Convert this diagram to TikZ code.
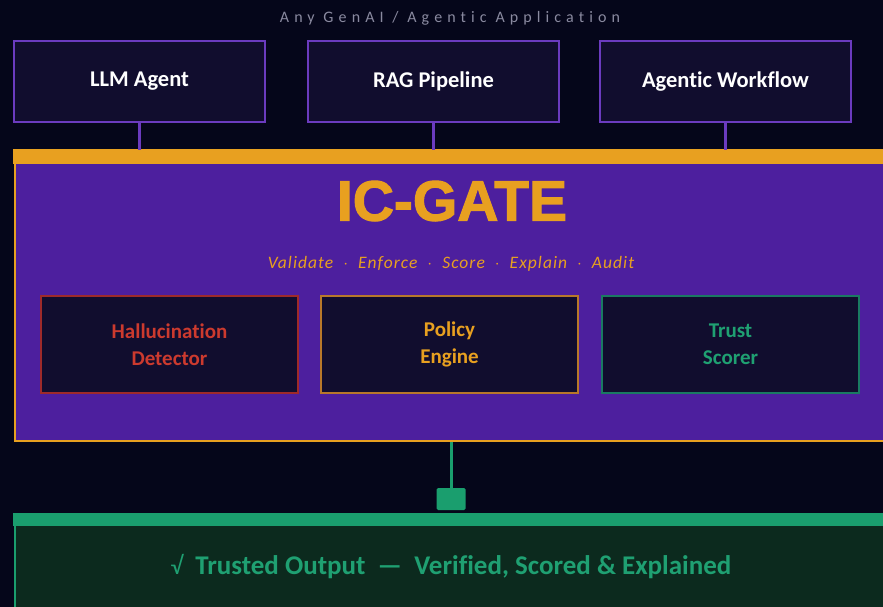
\documentclass[tikz,border=0pt]{standalone}
\usepackage{fontspec}
\setmainfont[Ligatures={NoCommon}]{Carlito}
\newfontfamily\titlefont[FakeBold=2]{Liberation Sans}
\definecolor{bgc}{HTML}{05061A}
\definecolor{boxfill}{HTML}{110D2E}
\definecolor{purpleb}{HTML}{6B3BBF}
\definecolor{gatefill}{HTML}{4D1F9E}
\definecolor{orangec}{HTML}{E8A020}
\definecolor{greytxt}{HTML}{8A8AA0}
\definecolor{redb}{HTML}{9E2A2A}
\definecolor{redt}{HTML}{CC3A2E}
\definecolor{orangeb}{HTML}{B8782A}
\definecolor{tealb}{HTML}{1A7A62}
\definecolor{greent}{HTML}{1FA072}
\definecolor{greenc}{HTML}{1A9E6E}
\definecolor{outfill}{HTML}{0C2A1E}
\begin{document}
\begin{tikzpicture}[x=1pt,y=-1pt,
  appbox/.style={draw=purpleb, line width=2pt, fill=boxfill, minimum width=251pt, minimum height=81pt, anchor=north west, inner sep=0pt, text=white, font=\fontsize{22.5}{26}\selectfont\bfseries},
  inbox/.style={line width=2pt, fill=boxfill, minimum width=257pt, minimum height=97pt, anchor=north west, inner sep=0pt, align=center, font=\fontsize{21}{27}\selectfont\bfseries},
  link/.style={draw=purpleb, line width=2.2pt}
]
\useasboundingbox (0,0) rectangle (883,607);
\fill[bgc] (0,0) rectangle (883,607);

\node[text=greytxt, font=\fontsize{16}{18}\selectfont\addfontfeatures{LetterSpace=32}] (apptitle) at (450,18) {Any GenAI / Agentic Application};

\node[appbox] (llm) at (13,40) {LLM Agent};
\node[appbox] (rag) at (307,40) {RAG Pipeline};
\node[appbox] (agw) at (599,40) {Agentic Workflow};

% gate
\node[draw=orangec, line width=2pt, fill=gatefill, minimum width=890pt, minimum height=290pt, anchor=north west, inner sep=0pt] (gate) at (14,150) {};
\fill[orangec] (gate.north west) ++(-1,-1) rectangle ++(892,15);

\draw[link] (llm.south) -- (llm.south |- gate.north);
\draw[link] (rag.south) -- (rag.south |- gate.north);
\draw[link] (agw.south) -- (agw.south |- gate.north);

\node[text=orangec, font=\titlefont\fontsize{57}{60}\selectfont\bfseries] (gtitle) at (452,201) {IC-GATE};
\node[text=orangec, font=\fontsize{17.5}{20}\selectfont\itshape\addfontfeatures{LetterSpace=6}] (gsub) at (451,264) {Validate \ $\cdot$ \ Enforce \ $\cdot$ \ Score \ $\cdot$ \ Explain \ $\cdot$ \ Audit};

\node[inbox, draw=redb, text=redt] (hal) at (40,295) {Hallucination\\Detector};
\node[inbox, draw=orangeb, text=orangec] (pol) at (320,295) {Policy\\Engine};
\node[inbox, draw=tealb, text=greent] (tru) at (601,295) {Trust\\Scorer};

% output
\node[draw=greenc, line width=2pt, fill=outfill, minimum width=890pt, minimum height=120pt, anchor=north west, inner sep=0pt] (out) at (14,514) {};
\fill[greenc] (out.north west) ++(-1,-1) rectangle ++(892,13);
\node[fill=greenc, rounded corners=1.5pt, minimum width=29pt, minimum height=22pt, inner sep=0pt] (sq) at (451,499) {};
\draw[draw=greenc, line width=3pt] (gate.south -| sq.north) -- (sq.north);

\node[text=greent, font=\fontsize{27}{30}\selectfont\bfseries] (outtxt) at (451,567) {{\fontsize{25}{28}\selectfont\mdseries √}\ \ Trusted Output \ — \ Verified, Scored \& Explained};
\end{tikzpicture}
\end{document}
